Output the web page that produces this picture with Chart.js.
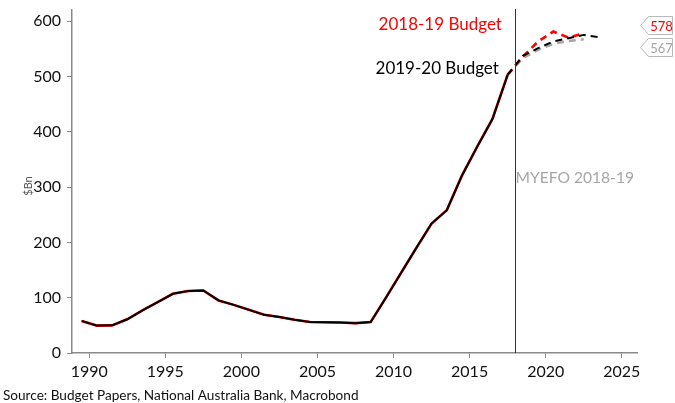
<!DOCTYPE html>
<html>
<head>
<meta charset="utf-8">
<script src="https://cdn.jsdelivr.net/npm/chart.js@4/dist/chart.umd.min.js"></script>
<style>
  html, body { margin: 0; padding: 0; background: #fff; }
  #wrap { width: 675px; height: 403px; position: relative; }
</style>
</head>
<body>
<div id="wrap"><canvas id="c" width="675" height="403"></canvas></div>
<script>
// Financial years (year ending June); points sit at 30 June of each year
const histYears = [1989, 1990, 1991, 1992, 1993, 1994, 1995, 1996, 1997, 1998, 1999,
  2000, 2001, 2002, 2003, 2004, 2005, 2006, 2007, 2008, 2009, 2010, 2011, 2012,
  2013, 2014, 2015, 2016, 2017];
const histDebt = [58, 49.5, 50, 61, 77, 92, 107, 112, 113, 95, 87,
  78, 69, 65, 60, 56, 55.6, 55, 54, 56, 100, 145, 190, 234,
  258, 321, 373, 423, 503];

// Projections, each starting from the last actual year
const budget1819Years = [2017, 2018, 2019, 2020, 2021, 2022];
const budget1819 = [503, 536, 563, 581, 570, 578];
const budget1920Years = [2017, 2018, 2019, 2020, 2021, 2022, 2023];
const budget1920 = [503, 537, 551, 563, 569, 575, 571];
const myefoYears = [2017, 2018, 2019, 2020, 2021, 2022];
const myefo = [503, 533, 548, 559, 564, 567];

const xTicks = [1990, 1995, 2000, 2005, 2010, 2015, 2020, 2025];
const yTicks = [0, 100, 200, 300, 400, 500, 600];
const budgetLine = 2018;

const FONT = 'Lato, "Open Sans", sans-serif';
const RED = '#ff0000';
const BLACK = '#000000';
const GREY = '#a6a6a6';
const LAST_ACTUAL = 2017;

const toPts = (years, vals) => years.map((y, i) => ({ x: y + 0.5, y: vals[i] }));

const dashAfterActuals = ctx => (ctx.p1.parsed.x > LAST_ACTUAL + 0.6 ? [7, 5] : undefined);

// Annotations: budget labels, MYEFO label, vertical line, end-value tags, source
const annotate = {
  id: 'annotate',
  afterDatasetsDraw(chart) {
    const { ctx, scales: { x, y }, chartArea } = chart;
    ctx.save();

    // vertical marker
    const vx = Math.round(x.getPixelForValue(budgetLine)) + 0.5;
    ctx.strokeStyle = '#333';
    ctx.lineWidth = 1;
    ctx.beginPath();
    ctx.moveTo(vx, chartArea.top - 1);
    ctx.lineTo(vx, chartArea.bottom);
    ctx.stroke();

    ctx.font = '17px ' + FONT;
    ctx.textBaseline = 'middle';
    ctx.textAlign = 'center';
    ctx.fillStyle = RED;
    ctx.fillText('2018-19 Budget', x.getPixelForValue(2013.07), y.getPixelForValue(594));
    ctx.fillStyle = BLACK;
    ctx.fillText('2019-20 Budget', x.getPixelForValue(2012.87), y.getPixelForValue(515));
    ctx.font = '15.6px ' + FONT;
    ctx.textAlign = 'left';
    ctx.fillStyle = GREY;
    ctx.fillText('MYEFO 2018-19', vx, y.getPixelForValue(317));

    // end-value tags at the right edge, spread apart so they do not overlap
    const tags = [
      { v: budget1819[budget1819.length - 1], color: RED },
      { v: myefo[myefo.length - 1], color: GREY }
    ];
    tags.forEach(t => { t.py = y.getPixelForValue(t.v); });
    const mid = (tags[0].py + tags[1].py) / 2;
    tags[0].py = Math.min(tags[0].py, mid - 11);
    tags[1].py = Math.max(tags[1].py, mid + 11);
    const tipX = 640.5, boxL = 648.5, boxR = 672.5, half = 9;
    ctx.font = '13px ' + FONT;
    tags.forEach(t => {
      const cy = Math.round(t.py) + 0.5;
      ctx.beginPath();
      ctx.moveTo(tipX, cy);
      ctx.lineTo(boxL, cy - half);
      ctx.lineTo(boxR, cy - half);
      ctx.lineTo(boxR, cy + half);
      ctx.lineTo(boxL, cy + half);
      ctx.closePath();
      ctx.fillStyle = '#fff';
      ctx.fill();
      ctx.strokeStyle = '#b8b8b8';
      ctx.lineWidth = 1;
      ctx.stroke();
      ctx.fillStyle = t.color;
      ctx.textAlign = 'center';
      ctx.fillText(String(t.v), (boxL + boxR) / 2 + 1, cy + 1);
    });

    // y-axis title
    ctx.save();
    ctx.translate(28, 186);
    ctx.rotate(-Math.PI / 2);
    ctx.font = '11px ' + FONT;
    ctx.fillStyle = '#555';
    ctx.textAlign = 'center';
    ctx.fillText('$Bn', 0, 0);
    ctx.restore();

    // source line
    ctx.font = '13.6px ' + FONT;
    ctx.fillStyle = '#111';
    ctx.textAlign = 'left';
    ctx.fillText('Source: Budget Papers, National Australia Bank, Macrobond', 3, 396);
    ctx.restore();
  }
};

new Chart(document.getElementById('c'), {
  type: 'line',
  data: {
    datasets: [
      {
        label: '2019-20 Budget',
        data: toPts(histYears, histDebt).concat(toPts(budget1920Years, budget1920).slice(1)),
        borderColor: BLACK,
        borderWidth: 2,
        pointRadius: 0,
        segment: { borderDash: dashAfterActuals },
        order: 0
      },
      {
        label: '2018-19 Budget',
        data: toPts(histYears, histDebt).concat(toPts(budget1819Years, budget1819).slice(1)),
        borderColor: RED,
        borderWidth: 2.6,
        pointRadius: 0,
        segment: { borderDash: dashAfterActuals },
        order: 1
      },
      {
        label: 'MYEFO 2018-19',
        data: toPts(myefoYears, myefo),
        borderColor: GREY,
        borderWidth: 2.6,
        borderDash: [7, 5],
        pointRadius: 0,
        order: 2
      }
    ]
  },
  options: {
    responsive: false,
    animation: false,
    events: [],
    layout: { padding: { left: 0, right: 38, top: 10, bottom: 0 } },
    plugins: { legend: { display: false }, tooltip: { enabled: false } },
    elements: { line: { tension: 0, borderCapStyle: 'butt' } },
    scales: {
      x: {
        type: 'linear',
        min: 1988.87,
        max: 2026,
        afterBuildTicks: s => { s.ticks = xTicks.map(v => ({ value: v })); },
        afterFit: s => { s.height = 50; s.paddingLeft = 0; s.paddingRight = 0; },
        grid: { drawOnChartArea: false, drawTicks: true, tickLength: 5, color: '#8a8a8a' },
        border: { display: true, color: '#8a8a8a', width: 1.5 },
        ticks: {
          color: '#111',
          font: { family: FONT, size: 16 },
          padding: 4,
          maxRotation: 0,
          callback: v => String(v)
        }
      },
      y: {
        min: 0,
        max: 620,
        afterBuildTicks: s => { s.ticks = yTicks.map(v => ({ value: v })); },
        afterFit: s => { s.width = 72; s.paddingTop = 0; s.paddingBottom = 0; },
        grid: { drawOnChartArea: false, drawTicks: true, tickLength: 5, color: '#8a8a8a' },
        border: { display: true, color: '#8a8a8a', width: 1.5 },
        ticks: {
          color: '#111',
          font: { family: FONT, size: 16 },
          padding: 6,
          callback: v => String(v)
        }
      }
    }
  },
  plugins: [annotate]
});
</script>
</body>
</html>
